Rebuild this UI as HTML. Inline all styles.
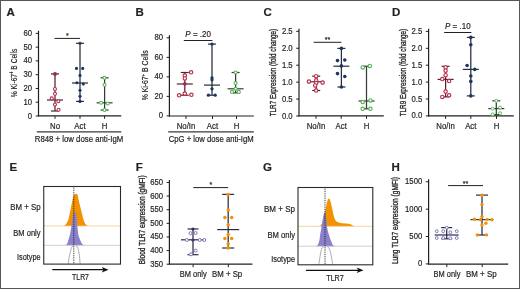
<!DOCTYPE html>
<html><head><meta charset="utf-8"><style>
html,body{margin:0;padding:0;background:#fff;}
svg{display:block;font-family:"Liberation Sans", sans-serif;will-change:transform;} text{stroke:#231f20;stroke-width:0.18px;}
</style></head><body>
<svg width="520" height="289" viewBox="0 0 520 289">
<rect x="0" y="0" width="520" height="289" fill="#fff"/>
<text x="0" y="0" transform="translate(6.5 15.7) scale(1 1.0)" font-size="11.5" text-anchor="start" font-weight="bold" fill="#231f20" >A</text>
<line x1="38.5" y1="30.779999999999994" x2="38.5" y2="116.3" stroke="#231f20" stroke-width="1.2" />
<line x1="35.7" y1="116.0" x2="38.5" y2="116.0" stroke="#231f20" stroke-width="1" />
<text x="0" y="0" transform="translate(32.1 118.5) scale(1 1.07)" font-size="7.7" text-anchor="end" font-weight="normal" fill="#231f20" >0</text>
<line x1="35.7" y1="102.23" x2="38.5" y2="102.23" stroke="#231f20" stroke-width="1" />
<text x="0" y="0" transform="translate(32.1 104.73) scale(1 1.07)" font-size="7.7" text-anchor="end" font-weight="normal" fill="#231f20" >10</text>
<line x1="35.7" y1="88.46000000000001" x2="38.5" y2="88.46000000000001" stroke="#231f20" stroke-width="1" />
<text x="0" y="0" transform="translate(32.1 90.96000000000001) scale(1 1.07)" font-size="7.7" text-anchor="end" font-weight="normal" fill="#231f20" >20</text>
<line x1="35.7" y1="74.69" x2="38.5" y2="74.69" stroke="#231f20" stroke-width="1" />
<text x="0" y="0" transform="translate(32.1 77.19) scale(1 1.07)" font-size="7.7" text-anchor="end" font-weight="normal" fill="#231f20" >30</text>
<line x1="35.7" y1="60.92" x2="38.5" y2="60.92" stroke="#231f20" stroke-width="1" />
<text x="0" y="0" transform="translate(32.1 63.42) scale(1 1.07)" font-size="7.7" text-anchor="end" font-weight="normal" fill="#231f20" >40</text>
<line x1="35.7" y1="47.150000000000006" x2="38.5" y2="47.150000000000006" stroke="#231f20" stroke-width="1" />
<text x="0" y="0" transform="translate(32.1 49.650000000000006) scale(1 1.07)" font-size="7.7" text-anchor="end" font-weight="normal" fill="#231f20" >50</text>
<line x1="35.7" y1="33.379999999999995" x2="38.5" y2="33.379999999999995" stroke="#231f20" stroke-width="1" />
<text x="0" y="0" transform="translate(32.1 35.879999999999995) scale(1 1.07)" font-size="7.7" text-anchor="end" font-weight="normal" fill="#231f20" >60</text>
<line x1="38" y1="115.8" x2="121.3" y2="115.8" stroke="#231f20" stroke-width="1.2" />
<line x1="55" y1="115.8" x2="55" y2="118.8" stroke="#231f20" stroke-width="1" />
<line x1="80" y1="115.8" x2="80" y2="118.8" stroke="#231f20" stroke-width="1" />
<line x1="104.6" y1="115.8" x2="104.6" y2="118.8" stroke="#231f20" stroke-width="1" />
<text x="0" y="0" transform="translate(55 128.9) scale(1 1.07)" font-size="7.8" text-anchor="middle" font-weight="normal" fill="#231f20" >No</text>
<text x="0" y="0" transform="translate(80 128.9) scale(1 1.07)" font-size="7.8" text-anchor="middle" font-weight="normal" fill="#231f20" >Act</text>
<text x="0" y="0" transform="translate(104.6 128.9) scale(1 1.07)" font-size="7.8" text-anchor="middle" font-weight="normal" fill="#231f20" >H</text>
<line x1="36.8" y1="131.9" x2="121.3" y2="131.9" stroke="#3a3a3a" stroke-width="1.4" />
<text x="0" y="0" transform="translate(79 141.6) scale(1 1.07)" font-size="7.8" text-anchor="middle" font-weight="normal" fill="#231f20" textLength="88.5" lengthAdjust="spacingAndGlyphs">R848 + low dose anti-IgM</text>
<text x="0" y="0" font-size="9.2" style="stroke-width:0.18px" text-anchor="middle" fill="#231f20" transform="translate(17.3 72.9) rotate(-90) scale(1 1.07)" textLength="48.5" lengthAdjust="spacingAndGlyphs">% Ki-67<tspan font-size="6" dy="-3.3">+</tspan><tspan dy="3.3"> B Cells</tspan></text>
<line x1="54.5" y1="38.4" x2="80" y2="38.4" stroke="#231f20" stroke-width="1" />
<text x="0" y="0" transform="translate(67.25 38.0) scale(1 1.07)" font-size="7" text-anchor="middle" font-weight="normal" fill="#231f20" >*</text>
<line x1="55" y1="73.9" x2="55" y2="111" stroke="#552232" stroke-width="1.25" />
<line x1="51.0" y1="73.9" x2="59.0" y2="73.9" stroke="#552232" stroke-width="1.2" />
<line x1="51.0" y1="111" x2="59.0" y2="111" stroke="#552232" stroke-width="1.2" />
<line x1="47.0" y1="100" x2="63.0" y2="100" stroke="#552232" stroke-width="1.2" />
<circle cx="55" cy="89" r="1.5" fill="#fff" stroke="#b8304c" stroke-width="1.1"/>
<circle cx="55" cy="93.7" r="1.5" fill="#fff" stroke="#b8304c" stroke-width="1.1"/>
<circle cx="51.7" cy="98.4" r="1.5" fill="#fff" stroke="#b8304c" stroke-width="1.1"/>
<circle cx="58.4" cy="101.2" r="1.5" fill="#fff" stroke="#b8304c" stroke-width="1.1"/>
<circle cx="55" cy="104.5" r="1.5" fill="#fff" stroke="#b8304c" stroke-width="1.1"/>
<circle cx="58.6" cy="109.7" r="1.5" fill="#fff" stroke="#b8304c" stroke-width="1.1"/>
<circle cx="55" cy="74" r="1.9" fill="#9a2a45"/>
<line x1="80" y1="43.3" x2="80" y2="101.4" stroke="#262d3b" stroke-width="1.25" />
<line x1="76.0" y1="43.3" x2="84.0" y2="43.3" stroke="#262d3b" stroke-width="1.2" />
<line x1="76.0" y1="101.4" x2="84.0" y2="101.4" stroke="#262d3b" stroke-width="1.2" />
<line x1="72.0" y1="83" x2="88.0" y2="83" stroke="#262d3b" stroke-width="1.2" />
<circle cx="80" cy="43.3" r="1.55" fill="#1a3662"/>
<circle cx="76.5" cy="68.4" r="1.55" fill="#1a3662"/>
<circle cx="82.7" cy="68.4" r="1.55" fill="#1a3662"/>
<circle cx="80" cy="75.4" r="1.55" fill="#1a3662"/>
<circle cx="83.3" cy="84" r="1.55" fill="#1a3662"/>
<circle cx="80" cy="90.3" r="1.55" fill="#1a3662"/>
<circle cx="80" cy="96.2" r="1.55" fill="#1a3662"/>
<circle cx="80" cy="101.4" r="1.55" fill="#1a3662"/>
<circle cx="76.9" cy="82.8" r="1.55" fill="#1a3662"/>
<line x1="104.6" y1="77.8" x2="104.6" y2="110" stroke="#333d30" stroke-width="1.25" />
<line x1="100.6" y1="77.8" x2="108.6" y2="77.8" stroke="#333d30" stroke-width="1.2" />
<line x1="100.6" y1="110" x2="108.6" y2="110" stroke="#333d30" stroke-width="1.2" />
<line x1="96.6" y1="102.8" x2="112.6" y2="102.8" stroke="#333d30" stroke-width="1.2" />
<circle cx="104.5" cy="77.8" r="1.5" fill="#fff" stroke="#55b555" stroke-width="1.05"/>
<circle cx="104.5" cy="84.8" r="1.5" fill="#fff" stroke="#55b555" stroke-width="1.05"/>
<circle cx="101" cy="102.8" r="1.5" fill="#fff" stroke="#55b555" stroke-width="1.05"/>
<circle cx="107.8" cy="103.5" r="1.5" fill="#fff" stroke="#55b555" stroke-width="1.05"/>
<circle cx="104.5" cy="110" r="1.5" fill="#fff" stroke="#55b555" stroke-width="1.05"/>
<text x="0" y="0" transform="translate(135.5 15.7) scale(1 1.0)" font-size="11.5" text-anchor="start" font-weight="bold" fill="#231f20" >B</text>
<line x1="169.4" y1="35.220000000000006" x2="169.4" y2="116.5" stroke="#231f20" stroke-width="1.2" />
<line x1="166.6" y1="115.9" x2="169.4" y2="115.9" stroke="#231f20" stroke-width="1" />
<text x="0" y="0" transform="translate(163.0 118.4) scale(1 1.07)" font-size="7.7" text-anchor="end" font-weight="normal" fill="#231f20" >0</text>
<line x1="166.6" y1="96.38000000000001" x2="169.4" y2="96.38000000000001" stroke="#231f20" stroke-width="1" />
<text x="0" y="0" transform="translate(163.0 98.88000000000001) scale(1 1.07)" font-size="7.7" text-anchor="end" font-weight="normal" fill="#231f20" >20</text>
<line x1="166.6" y1="76.86000000000001" x2="169.4" y2="76.86000000000001" stroke="#231f20" stroke-width="1" />
<text x="0" y="0" transform="translate(163.0 79.36000000000001) scale(1 1.07)" font-size="7.7" text-anchor="end" font-weight="normal" fill="#231f20" >40</text>
<line x1="166.6" y1="57.34" x2="169.4" y2="57.34" stroke="#231f20" stroke-width="1" />
<text x="0" y="0" transform="translate(163.0 59.84) scale(1 1.07)" font-size="7.7" text-anchor="end" font-weight="normal" fill="#231f20" >60</text>
<line x1="166.6" y1="37.82000000000001" x2="169.4" y2="37.82000000000001" stroke="#231f20" stroke-width="1" />
<text x="0" y="0" transform="translate(163.0 40.32000000000001) scale(1 1.07)" font-size="7.7" text-anchor="end" font-weight="normal" fill="#231f20" >80</text>
<line x1="169" y1="116" x2="253.8" y2="116" stroke="#231f20" stroke-width="1.2" />
<line x1="186" y1="116" x2="186" y2="119" stroke="#231f20" stroke-width="1" />
<line x1="212.5" y1="116" x2="212.5" y2="119" stroke="#231f20" stroke-width="1" />
<line x1="236.5" y1="116" x2="236.5" y2="119" stroke="#231f20" stroke-width="1" />
<text x="0" y="0" transform="translate(186 129.0) scale(1 1.07)" font-size="7.8" text-anchor="middle" font-weight="normal" fill="#231f20" >No/In</text>
<text x="0" y="0" transform="translate(212.5 129.0) scale(1 1.07)" font-size="7.8" text-anchor="middle" font-weight="normal" fill="#231f20" >Act</text>
<text x="0" y="0" transform="translate(236.5 129.0) scale(1 1.07)" font-size="7.8" text-anchor="middle" font-weight="normal" fill="#231f20" >H</text>
<line x1="168.2" y1="131.9" x2="253.8" y2="131.9" stroke="#3a3a3a" stroke-width="1.4" />
<text x="0" y="0" transform="translate(211.2 141.6) scale(1 1.07)" font-size="7.8" text-anchor="middle" font-weight="normal" fill="#231f20" textLength="85" lengthAdjust="spacingAndGlyphs">CpG + low dose anti-IgM</text>
<text x="0" y="0" font-size="7.6" style="stroke-width:0.18px" text-anchor="middle" fill="#231f20" transform="translate(148.0 75.3) rotate(-90) scale(1 1.07)" textLength="50" lengthAdjust="spacingAndGlyphs">% Ki-67<tspan font-size="5" dy="-2.7">+</tspan><tspan dy="2.7"> B Cells</tspan></text>
<line x1="183.8" y1="40.5" x2="212.4" y2="40.5" stroke="#231f20" stroke-width="1" />
<text x="0" y="0" transform="translate(198.10000000000002 36.6) scale(1 1.07)" font-size="8.3" text-anchor="middle" fill="#231f20" textLength="25.5" lengthAdjust="spacingAndGlyphs"><tspan font-style="italic">P</tspan> = .20</text>
<line x1="184.8" y1="72.5" x2="184.8" y2="95.2" stroke="#552232" stroke-width="1.25" />
<line x1="180.8" y1="72.5" x2="188.8" y2="72.5" stroke="#552232" stroke-width="1.2" />
<line x1="180.8" y1="95.2" x2="188.8" y2="95.2" stroke="#552232" stroke-width="1.2" />
<line x1="176.8" y1="84" x2="192.8" y2="84" stroke="#552232" stroke-width="1.2" />
<circle cx="191.1" cy="72.3" r="1.7" fill="#fff" stroke="#b8304c" stroke-width="1.15"/>
<circle cx="184.8" cy="75.6" r="1.7" fill="#fff" stroke="#b8304c" stroke-width="1.15"/>
<circle cx="184.8" cy="78.4" r="1.7" fill="#fff" stroke="#b8304c" stroke-width="1.15"/>
<circle cx="184.8" cy="93.6" r="1.7" fill="#fff" stroke="#b8304c" stroke-width="1.15"/>
<circle cx="179.1" cy="95.3" r="1.7" fill="#fff" stroke="#b8304c" stroke-width="1.15"/>
<circle cx="191.4" cy="94.8" r="1.7" fill="#fff" stroke="#b8304c" stroke-width="1.15"/>
<circle cx="184.8" cy="83.9" r="1.8" fill="#a02a45"/>
<line x1="212" y1="44.1" x2="212" y2="95.2" stroke="#262d3b" stroke-width="1.25" />
<line x1="208.0" y1="44.1" x2="216.0" y2="44.1" stroke="#262d3b" stroke-width="1.2" />
<line x1="208.0" y1="95.2" x2="216.0" y2="95.2" stroke="#262d3b" stroke-width="1.2" />
<line x1="204.0" y1="85.1" x2="220.0" y2="85.1" stroke="#262d3b" stroke-width="1.2" />
<circle cx="212" cy="44.1" r="1.6500000000000001" fill="#1a3662"/>
<circle cx="212" cy="77.8" r="1.6500000000000001" fill="#1a3662"/>
<circle cx="212" cy="79.8" r="1.6500000000000001" fill="#1a3662"/>
<circle cx="212" cy="88.8" r="1.6500000000000001" fill="#1a3662"/>
<circle cx="208.4" cy="95.2" r="1.6500000000000001" fill="#1a3662"/>
<circle cx="215.2" cy="95.2" r="1.6500000000000001" fill="#1a3662"/>
<line x1="235.6" y1="72.5" x2="235.6" y2="92.9" stroke="#333d30" stroke-width="1.25" />
<line x1="231.6" y1="72.5" x2="239.6" y2="72.5" stroke="#333d30" stroke-width="1.2" />
<line x1="231.6" y1="92.9" x2="239.6" y2="92.9" stroke="#333d30" stroke-width="1.2" />
<line x1="227.6" y1="88.8" x2="243.6" y2="88.8" stroke="#333d30" stroke-width="1.2" />
<circle cx="235.6" cy="72.5" r="1.55" fill="#fff" stroke="#55b555" stroke-width="1.05"/>
<circle cx="235.6" cy="83.2" r="1.55" fill="#fff" stroke="#55b555" stroke-width="1.05"/>
<circle cx="232" cy="91.9" r="1.55" fill="#fff" stroke="#55b555" stroke-width="1.05"/>
<circle cx="238.8" cy="91.9" r="1.55" fill="#fff" stroke="#55b555" stroke-width="1.05"/>
<circle cx="235.6" cy="88.8" r="1.55" fill="#fff" stroke="#55b555" stroke-width="1.05"/>
<text x="0" y="0" transform="translate(263.5 15.7) scale(1 1.0)" font-size="11.5" text-anchor="start" font-weight="bold" fill="#231f20" >C</text>
<line x1="299.0" y1="28.725" x2="299.0" y2="116.3" stroke="#231f20" stroke-width="1.2" />
<line x1="296.2" y1="116.0" x2="299.0" y2="116.0" stroke="#231f20" stroke-width="1" />
<text x="0" y="0" transform="translate(292.6 118.5) scale(1 1.07)" font-size="7.7" text-anchor="end" font-weight="normal" fill="#231f20" >0.0</text>
<line x1="296.2" y1="99.065" x2="299.0" y2="99.065" stroke="#231f20" stroke-width="1" />
<text x="0" y="0" transform="translate(292.6 101.565) scale(1 1.07)" font-size="7.7" text-anchor="end" font-weight="normal" fill="#231f20" >0.5</text>
<line x1="296.2" y1="82.13" x2="299.0" y2="82.13" stroke="#231f20" stroke-width="1" />
<text x="0" y="0" transform="translate(292.6 84.63) scale(1 1.07)" font-size="7.7" text-anchor="end" font-weight="normal" fill="#231f20" >1.0</text>
<line x1="296.2" y1="65.19500000000001" x2="299.0" y2="65.19500000000001" stroke="#231f20" stroke-width="1" />
<text x="0" y="0" transform="translate(292.6 67.69500000000001) scale(1 1.07)" font-size="7.7" text-anchor="end" font-weight="normal" fill="#231f20" >1.5</text>
<line x1="296.2" y1="48.260000000000005" x2="299.0" y2="48.260000000000005" stroke="#231f20" stroke-width="1" />
<text x="0" y="0" transform="translate(292.6 50.760000000000005) scale(1 1.07)" font-size="7.7" text-anchor="end" font-weight="normal" fill="#231f20" >2.0</text>
<line x1="296.2" y1="31.325000000000003" x2="299.0" y2="31.325000000000003" stroke="#231f20" stroke-width="1" />
<text x="0" y="0" transform="translate(292.6 33.825) scale(1 1.07)" font-size="7.7" text-anchor="end" font-weight="normal" fill="#231f20" >2.5</text>
<line x1="298.5" y1="115.8" x2="383.8" y2="115.8" stroke="#231f20" stroke-width="1.2" />
<line x1="316" y1="115.8" x2="316" y2="118.8" stroke="#231f20" stroke-width="1" />
<line x1="341.2" y1="115.8" x2="341.2" y2="118.8" stroke="#231f20" stroke-width="1" />
<line x1="366.5" y1="115.8" x2="366.5" y2="118.8" stroke="#231f20" stroke-width="1" />
<text x="0" y="0" transform="translate(316 128.8) scale(1 1.07)" font-size="7.8" text-anchor="middle" font-weight="normal" fill="#231f20" >No/In</text>
<text x="0" y="0" transform="translate(341.2 128.8) scale(1 1.07)" font-size="7.8" text-anchor="middle" font-weight="normal" fill="#231f20" >Act</text>
<text x="0" y="0" transform="translate(366.5 128.8) scale(1 1.07)" font-size="7.8" text-anchor="middle" font-weight="normal" fill="#231f20" >H</text>
<text x="0" y="0" font-size="8.0" style="stroke-width:0.3px" text-anchor="middle" fill="#231f20" transform="translate(276.4 72.6) rotate(-90) scale(1 1.07)" textLength="87.5" lengthAdjust="spacingAndGlyphs">TLR7 Expression (fold change)</text>
<line x1="313.6" y1="42.3" x2="341.4" y2="42.3" stroke="#231f20" stroke-width="1" />
<text x="0" y="0" transform="translate(327.5 42.1) scale(1 1.07)" font-size="7" text-anchor="middle" font-weight="normal" fill="#231f20" >**</text>
<line x1="316.2" y1="76.2" x2="316.2" y2="90.5" stroke="#552232" stroke-width="1.25" />
<line x1="312.2" y1="76.2" x2="320.2" y2="76.2" stroke="#552232" stroke-width="1.2" />
<line x1="312.2" y1="90.5" x2="320.2" y2="90.5" stroke="#552232" stroke-width="1.2" />
<line x1="308.2" y1="81.8" x2="324.2" y2="81.8" stroke="#552232" stroke-width="1.2" />
<circle cx="316.2" cy="76.2" r="1.7" fill="#fff" stroke="#b8304c" stroke-width="1.15"/>
<circle cx="308.9" cy="81.6" r="1.7" fill="#fff" stroke="#b8304c" stroke-width="1.15"/>
<circle cx="322.6" cy="82.6" r="1.7" fill="#fff" stroke="#b8304c" stroke-width="1.15"/>
<circle cx="316.2" cy="80.3" r="1.7" fill="#fff" stroke="#b8304c" stroke-width="1.15"/>
<circle cx="316.2" cy="83" r="1.7" fill="#fff" stroke="#b8304c" stroke-width="1.15"/>
<circle cx="315.2" cy="85.4" r="1.7" fill="#fff" stroke="#b8304c" stroke-width="1.15"/>
<circle cx="316.2" cy="90.5" r="1.7" fill="#fff" stroke="#b8304c" stroke-width="1.15"/>
<line x1="341.4" y1="48.4" x2="341.4" y2="87" stroke="#262d3b" stroke-width="1.25" />
<line x1="337.4" y1="48.4" x2="345.4" y2="48.4" stroke="#262d3b" stroke-width="1.2" />
<line x1="337.4" y1="87" x2="345.4" y2="87" stroke="#262d3b" stroke-width="1.2" />
<line x1="333.4" y1="66.2" x2="349.4" y2="66.2" stroke="#262d3b" stroke-width="1.2" />
<circle cx="341.4" cy="48.4" r="1.8" fill="#1a3662"/>
<circle cx="337.5" cy="60.6" r="1.8" fill="#1a3662"/>
<circle cx="344.8" cy="60" r="1.8" fill="#1a3662"/>
<circle cx="341.4" cy="65.9" r="1.8" fill="#1a3662"/>
<circle cx="337.5" cy="73.6" r="1.8" fill="#1a3662"/>
<circle cx="344.8" cy="76.5" r="1.8" fill="#1a3662"/>
<circle cx="341.4" cy="87" r="1.8" fill="#1a3662"/>
<line x1="366.5" y1="66.2" x2="366.5" y2="108.8" stroke="#333d30" stroke-width="1.25" />
<line x1="362.5" y1="66.2" x2="370.5" y2="66.2" stroke="#333d30" stroke-width="1.2" />
<line x1="362.5" y1="108.8" x2="370.5" y2="108.8" stroke="#333d30" stroke-width="1.2" />
<line x1="358.5" y1="101" x2="374.5" y2="101" stroke="#333d30" stroke-width="1.2" />
<circle cx="362.7" cy="67.4" r="1.7" fill="#fff" stroke="#55b555" stroke-width="1.15"/>
<circle cx="369.8" cy="65.9" r="1.7" fill="#fff" stroke="#55b555" stroke-width="1.15"/>
<circle cx="362.7" cy="102" r="1.7" fill="#fff" stroke="#55b555" stroke-width="1.15"/>
<circle cx="370.4" cy="100.4" r="1.7" fill="#fff" stroke="#55b555" stroke-width="1.15"/>
<circle cx="362.7" cy="108.8" r="1.7" fill="#fff" stroke="#55b555" stroke-width="1.15"/>
<circle cx="370.4" cy="108.8" r="1.7" fill="#fff" stroke="#55b555" stroke-width="1.15"/>
<text x="0" y="0" transform="translate(392 15.7) scale(1 1.0)" font-size="11.5" text-anchor="start" font-weight="bold" fill="#231f20" >D</text>
<line x1="428.6" y1="28.800000000000004" x2="428.6" y2="116.4" stroke="#231f20" stroke-width="1.2" />
<line x1="425.8" y1="115.9" x2="428.6" y2="115.9" stroke="#231f20" stroke-width="1" />
<text x="0" y="0" transform="translate(422.20000000000005 118.4) scale(1 1.07)" font-size="7.7" text-anchor="end" font-weight="normal" fill="#231f20" >0.0</text>
<line x1="425.8" y1="99.0" x2="428.6" y2="99.0" stroke="#231f20" stroke-width="1" />
<text x="0" y="0" transform="translate(422.20000000000005 101.5) scale(1 1.07)" font-size="7.7" text-anchor="end" font-weight="normal" fill="#231f20" >0.5</text>
<line x1="425.8" y1="82.10000000000001" x2="428.6" y2="82.10000000000001" stroke="#231f20" stroke-width="1" />
<text x="0" y="0" transform="translate(422.20000000000005 84.60000000000001) scale(1 1.07)" font-size="7.7" text-anchor="end" font-weight="normal" fill="#231f20" >1.0</text>
<line x1="425.8" y1="65.20000000000002" x2="428.6" y2="65.20000000000002" stroke="#231f20" stroke-width="1" />
<text x="0" y="0" transform="translate(422.20000000000005 67.70000000000002) scale(1 1.07)" font-size="7.7" text-anchor="end" font-weight="normal" fill="#231f20" >1.5</text>
<line x1="425.8" y1="48.30000000000001" x2="428.6" y2="48.30000000000001" stroke="#231f20" stroke-width="1" />
<text x="0" y="0" transform="translate(422.20000000000005 50.80000000000001) scale(1 1.07)" font-size="7.7" text-anchor="end" font-weight="normal" fill="#231f20" >2.0</text>
<line x1="425.8" y1="31.400000000000006" x2="428.6" y2="31.400000000000006" stroke="#231f20" stroke-width="1" />
<text x="0" y="0" transform="translate(422.20000000000005 33.900000000000006) scale(1 1.07)" font-size="7.7" text-anchor="end" font-weight="normal" fill="#231f20" >2.5</text>
<line x1="428" y1="115.9" x2="513.8" y2="115.9" stroke="#231f20" stroke-width="1.2" />
<line x1="445.6" y1="115.9" x2="445.6" y2="118.9" stroke="#231f20" stroke-width="1" />
<line x1="470.8" y1="115.9" x2="470.8" y2="118.9" stroke="#231f20" stroke-width="1" />
<line x1="496.5" y1="115.9" x2="496.5" y2="118.9" stroke="#231f20" stroke-width="1" />
<text x="0" y="0" transform="translate(445.6 128.6) scale(1 1.07)" font-size="7.8" text-anchor="middle" font-weight="normal" fill="#231f20" >No/In</text>
<text x="0" y="0" transform="translate(470.8 128.6) scale(1 1.07)" font-size="7.8" text-anchor="middle" font-weight="normal" fill="#231f20" >Act</text>
<text x="0" y="0" transform="translate(496.5 128.6) scale(1 1.07)" font-size="7.8" text-anchor="middle" font-weight="normal" fill="#231f20" >H</text>
<text x="0" y="0" font-size="8.0" style="stroke-width:0.3px" text-anchor="middle" fill="#231f20" transform="translate(406.4 72.6) rotate(-90) scale(1 1.07)" textLength="87.5" lengthAdjust="spacingAndGlyphs">TLR9 Expression (fold change)</text>
<line x1="444.2" y1="32.5" x2="471.4" y2="32.5" stroke="#231f20" stroke-width="1" />
<text x="0" y="0" transform="translate(457.79999999999995 28.6) scale(1 1.07)" font-size="8.3" text-anchor="middle" fill="#231f20" textLength="25.5" lengthAdjust="spacingAndGlyphs"><tspan font-style="italic">P</tspan> = .10</text>
<line x1="445.6" y1="66.3" x2="445.6" y2="96.9" stroke="#552232" stroke-width="1.25" />
<line x1="441.6" y1="66.3" x2="449.6" y2="66.3" stroke="#552232" stroke-width="1.2" />
<line x1="441.6" y1="96.9" x2="449.6" y2="96.9" stroke="#552232" stroke-width="1.2" />
<line x1="437.6" y1="79.4" x2="453.6" y2="79.4" stroke="#552232" stroke-width="1.2" />
<circle cx="445.6" cy="67.4" r="1.7" fill="#fff" stroke="#b8304c" stroke-width="1.15"/>
<circle cx="445.6" cy="70.7" r="1.7" fill="#fff" stroke="#b8304c" stroke-width="1.15"/>
<circle cx="445.6" cy="75.2" r="1.7" fill="#fff" stroke="#b8304c" stroke-width="1.15"/>
<circle cx="442.3" cy="79" r="1.7" fill="#fff" stroke="#b8304c" stroke-width="1.15"/>
<circle cx="449.1" cy="81" r="1.7" fill="#fff" stroke="#b8304c" stroke-width="1.15"/>
<circle cx="445.6" cy="91.5" r="1.7" fill="#fff" stroke="#b8304c" stroke-width="1.15"/>
<circle cx="442.3" cy="96.9" r="1.7" fill="#fff" stroke="#b8304c" stroke-width="1.15"/>
<circle cx="449.1" cy="95.3" r="1.7" fill="#fff" stroke="#b8304c" stroke-width="1.15"/>
<line x1="470.8" y1="37.4" x2="470.8" y2="95.9" stroke="#262d3b" stroke-width="1.25" />
<line x1="466.8" y1="37.4" x2="474.8" y2="37.4" stroke="#262d3b" stroke-width="1.2" />
<line x1="466.8" y1="95.9" x2="474.8" y2="95.9" stroke="#262d3b" stroke-width="1.2" />
<line x1="462.8" y1="69.4" x2="478.8" y2="69.4" stroke="#262d3b" stroke-width="1.2" />
<circle cx="470.8" cy="37.4" r="1.8" fill="#1a3662"/>
<circle cx="470.8" cy="44.8" r="1.8" fill="#1a3662"/>
<circle cx="467.1" cy="65.5" r="1.8" fill="#1a3662"/>
<circle cx="474.7" cy="69.4" r="1.8" fill="#1a3662"/>
<circle cx="470.8" cy="76" r="1.8" fill="#1a3662"/>
<circle cx="470.8" cy="81.4" r="1.8" fill="#1a3662"/>
<circle cx="470.8" cy="95.9" r="1.8" fill="#1a3662"/>
<line x1="496.3" y1="100.8" x2="496.3" y2="114.6" stroke="#333d30" stroke-width="1.25" />
<line x1="492.3" y1="100.8" x2="500.3" y2="100.8" stroke="#333d30" stroke-width="1.2" />
<line x1="492.3" y1="114.6" x2="500.3" y2="114.6" stroke="#333d30" stroke-width="1.2" />
<line x1="488.3" y1="108.6" x2="504.3" y2="108.6" stroke="#333d30" stroke-width="1.2" />
<circle cx="496.3" cy="100.8" r="1.5" fill="#fff" stroke="#62bb62" stroke-width="1.0"/>
<circle cx="492.6" cy="108.6" r="1.5" fill="#fff" stroke="#62bb62" stroke-width="1.0"/>
<circle cx="500.1" cy="107.6" r="1.5" fill="#fff" stroke="#62bb62" stroke-width="1.0"/>
<circle cx="492.6" cy="114.3" r="1.5" fill="#fff" stroke="#62bb62" stroke-width="1.0"/>
<circle cx="500.1" cy="113.3" r="1.5" fill="#fff" stroke="#62bb62" stroke-width="1.0"/>
<text x="0" y="0" transform="translate(9.5 171.2) scale(1 1.0)" font-size="11.5" text-anchor="start" font-weight="bold" fill="#231f20" >E</text>
<path d="M63,226 L64.4,225.6 L66,224.2 L68.3,220 L70.5,210 L72.4,200 L73.5,196 L74.5,194.2 L76,193.8 L77.2,194.3 L78,196.5 L78.6,200 L79.8,205 L81.1,210 L82.3,215 L83.6,220 L85,223.6 L86.9,225.6 L89,226 Z" fill="#f39200" stroke="none"/>
<line x1="43.75" y1="226" x2="120.5" y2="226" stroke="#f6c98a" stroke-width="0.8" />
<path d="M64.5,245.3 L66.4,244.8 L67.5,243 L68.4,240 L69.9,235 L71,229 L72,222 L73,215 L74,212.3 L75.2,212 L76.3,214 L76.8,220 L77.3,226 L78.3,235 L80.1,240 L81.5,243 L82.9,244.8 L85,245.3 Z" fill="#8a80cc" stroke="none"/>
<line x1="43.75" y1="245.3" x2="120.5" y2="245.3" stroke="#c4c2d6" stroke-width="0.8" />
<path d="M68.2,263.8 L69.2,257 L70.3,252 L71.3,248.5 L72.3,246.2 L73.5,245.3 M75.9,245.3 L77,246.2 L78,248.5 L78.9,252 L79.6,257 L80.1,263.8" fill="none" stroke="#9a9a9a" stroke-width="0.8"/>
<line x1="73.8" y1="186.5" x2="73.8" y2="264.1" stroke="#111" stroke-width="0.9" stroke-dasharray="0.9 0.9"/>
<rect x="43.75" y="186.5" width="76.75" height="77.60000000000002" fill="none" stroke="#2a2a2a" stroke-width="1.1"/>
<text x="0" y="0" transform="translate(40.5 209.5) scale(1 1.07)" font-size="7.8" text-anchor="end" font-weight="normal" fill="#231f20" textLength="30.3" lengthAdjust="spacingAndGlyphs">BM + Sp</text>
<text x="0" y="0" transform="translate(40.5 236.4) scale(1 1.07)" font-size="7.8" text-anchor="end" font-weight="normal" fill="#231f20" textLength="27.2" lengthAdjust="spacingAndGlyphs">BM only</text>
<text x="0" y="0" transform="translate(40.5 260.1) scale(1 1.07)" font-size="7.8" text-anchor="end" font-weight="normal" fill="#231f20" textLength="23.5" lengthAdjust="spacingAndGlyphs">Isotype</text>
<line x1="52.3" y1="269.7" x2="104.6" y2="269.7" stroke="#111" stroke-width="1.3" />
<path d="M108.6,269.7 L101.8,266.9 L103.39999999999999,269.7 L101.8,272.5 Z" fill="#111"/>
<text x="0" y="0" transform="translate(80.5 279.5) scale(1 1.07)" font-size="7.6" text-anchor="middle" font-weight="normal" fill="#231f20" textLength="16.8" lengthAdjust="spacingAndGlyphs">TLR7</text>
<text x="0" y="0" transform="translate(135.8 171.2) scale(1 1.0)" font-size="11.5" text-anchor="start" font-weight="bold" fill="#231f20" >F</text>
<line x1="169.4" y1="179.88" x2="169.4" y2="264.7" stroke="#231f20" stroke-width="1.2" />
<line x1="166.6" y1="264.2" x2="169.4" y2="264.2" stroke="#231f20" stroke-width="1" />
<text x="0" y="0" transform="translate(163.0 266.7) scale(1 1.07)" font-size="7.7" text-anchor="end" font-weight="normal" fill="#231f20" >350</text>
<line x1="166.6" y1="250.57999999999998" x2="169.4" y2="250.57999999999998" stroke="#231f20" stroke-width="1" />
<text x="0" y="0" transform="translate(163.0 253.07999999999998) scale(1 1.07)" font-size="7.7" text-anchor="end" font-weight="normal" fill="#231f20" >400</text>
<line x1="166.6" y1="236.95999999999998" x2="169.4" y2="236.95999999999998" stroke="#231f20" stroke-width="1" />
<text x="0" y="0" transform="translate(163.0 239.45999999999998) scale(1 1.07)" font-size="7.7" text-anchor="end" font-weight="normal" fill="#231f20" >450</text>
<line x1="166.6" y1="223.33999999999997" x2="169.4" y2="223.33999999999997" stroke="#231f20" stroke-width="1" />
<text x="0" y="0" transform="translate(163.0 225.83999999999997) scale(1 1.07)" font-size="7.7" text-anchor="end" font-weight="normal" fill="#231f20" >500</text>
<line x1="166.6" y1="209.72" x2="169.4" y2="209.72" stroke="#231f20" stroke-width="1" />
<text x="0" y="0" transform="translate(163.0 212.22) scale(1 1.07)" font-size="7.7" text-anchor="end" font-weight="normal" fill="#231f20" >550</text>
<line x1="166.6" y1="196.1" x2="169.4" y2="196.1" stroke="#231f20" stroke-width="1" />
<text x="0" y="0" transform="translate(163.0 198.6) scale(1 1.07)" font-size="7.7" text-anchor="end" font-weight="normal" fill="#231f20" >600</text>
<line x1="166.6" y1="182.48" x2="169.4" y2="182.48" stroke="#231f20" stroke-width="1" />
<text x="0" y="0" transform="translate(163.0 184.98) scale(1 1.07)" font-size="7.7" text-anchor="end" font-weight="normal" fill="#231f20" >650</text>
<line x1="169" y1="264.2" x2="252.4" y2="264.2" stroke="#231f20" stroke-width="1.2" />
<line x1="193.1" y1="264.2" x2="193.1" y2="267.2" stroke="#231f20" stroke-width="1" />
<line x1="228.3" y1="264.2" x2="228.3" y2="267.2" stroke="#231f20" stroke-width="1" />
<text x="0" y="0" transform="translate(193.2 277.2) scale(1 1.07)" font-size="7.8" text-anchor="middle" font-weight="normal" fill="#231f20" textLength="27" lengthAdjust="spacingAndGlyphs">BM only</text>
<text x="0" y="0" transform="translate(227.1 277.2) scale(1 1.07)" font-size="7.8" text-anchor="middle" font-weight="normal" fill="#231f20" textLength="30.2" lengthAdjust="spacingAndGlyphs">BM + Sp</text>
<text x="0" y="0" font-size="8.2" style="stroke-width:0.3px" text-anchor="middle" fill="#231f20" transform="translate(145.2 219.8) rotate(-90) scale(1 1.07)" textLength="89" lengthAdjust="spacingAndGlyphs">Blood TLR7 expression (gMFI)</text>
<line x1="193.3" y1="187.6" x2="228.2" y2="187.6" stroke="#231f20" stroke-width="1" />
<text x="0" y="0" transform="translate(210.75 187.2) scale(1 1.07)" font-size="7" text-anchor="middle" font-weight="normal" fill="#231f20" >*</text>
<line x1="193" y1="229" x2="193" y2="254.7" stroke="#2c2c48" stroke-width="1.25" />
<line x1="187.5" y1="229" x2="198.5" y2="229" stroke="#2c2c48" stroke-width="1.2" />
<line x1="187.5" y1="254.7" x2="198.5" y2="254.7" stroke="#2c2c48" stroke-width="1.2" />
<line x1="181.0" y1="239.8" x2="205.0" y2="239.8" stroke="#2c2c48" stroke-width="1.2" />
<circle cx="190.5" cy="233.2" r="1.5" fill="#fff" stroke="#7878bc" stroke-width="1.0"/>
<circle cx="195.6" cy="233" r="1.5" fill="#fff" stroke="#7878bc" stroke-width="1.0"/>
<circle cx="186.8" cy="240" r="1.5" fill="#fff" stroke="#7878bc" stroke-width="1.0"/>
<circle cx="199.8" cy="240" r="1.5" fill="#fff" stroke="#7878bc" stroke-width="1.0"/>
<circle cx="204.2" cy="240" r="1.5" fill="#fff" stroke="#7878bc" stroke-width="1.0"/>
<circle cx="195.6" cy="250.6" r="1.5" fill="#fff" stroke="#7878bc" stroke-width="1.0"/>
<circle cx="191" cy="254.3" r="1.5" fill="#fff" stroke="#7878bc" stroke-width="1.0"/>
<circle cx="193" cy="229" r="1.6" fill="#2c2c50"/>
<circle cx="193" cy="240" r="1.6" fill="#3c3c70"/>
<line x1="228.2" y1="194.4" x2="228.2" y2="248" stroke="#2c2c48" stroke-width="1.25" />
<line x1="222.2" y1="194.4" x2="234.2" y2="194.4" stroke="#2c2c48" stroke-width="1.2" />
<line x1="222.2" y1="248" x2="234.2" y2="248" stroke="#2c2c48" stroke-width="1.2" />
<line x1="217.2" y1="229.6" x2="239.2" y2="229.6" stroke="#2c2c48" stroke-width="1.2" />
<circle cx="228.2" cy="194.4" r="1.75" fill="#f39200"/>
<circle cx="228.2" cy="209.9" r="1.75" fill="#f39200"/>
<circle cx="224.9" cy="217.5" r="1.75" fill="#f39200"/>
<circle cx="231.7" cy="217.5" r="1.75" fill="#f39200"/>
<circle cx="228.2" cy="224.8" r="1.75" fill="#f39200"/>
<circle cx="228.2" cy="234.4" r="1.75" fill="#f39200"/>
<circle cx="224.9" cy="238.6" r="1.75" fill="#f39200"/>
<circle cx="231.7" cy="238.6" r="1.75" fill="#f39200"/>
<circle cx="228.2" cy="243.7" r="1.75" fill="#f39200"/>
<circle cx="228.2" cy="248" r="1.75" fill="#f39200"/>
<text x="0" y="0" transform="translate(263 171.2) scale(1 1.0)" font-size="11.5" text-anchor="start" font-weight="bold" fill="#231f20" >G</text>
<path d="M318.5,226.3 L320.4,225.8 L322,223.5 L323.5,219 L324.8,213 L325.8,208 L326.8,203 L327.8,199.5 L328.7,198.4 L329.6,199 L330.5,201.5 L331.5,205.5 L332.5,210 L333.3,214 L334.2,217.5 L335,219.8 L336.5,221.5 L338.5,222.6 L342,223.3 L346,223.6 L350,224 L352,225 L354,226.3 Z" fill="#f39200" stroke="none"/>
<line x1="298" y1="226.3" x2="372.8" y2="226.3" stroke="#f6c98a" stroke-width="0.8" />
<path d="M315.5,246.2 L317.4,245.6 L318.5,243.5 L319.5,240 L320.1,235 L321,230 L321.6,226 L322.6,220 L323.5,215 L324.3,212.4 L325.2,213 L326,217 L326.9,226 L327.8,231 L329,235 L330.5,239.5 L332,243.5 L333.2,245.6 L336,246.2 Z" fill="#8a80cc" stroke="none"/>
<line x1="298" y1="246.2" x2="372.8" y2="246.2" stroke="#c4c2d6" stroke-width="0.8" />
<path d="M318.8,264.8 L319.8,258 L320.6,253 L321.5,249.5 L322.5,247.3 L324,246.3 M327,246.3 L328.5,247.3 L329.6,249.5 L330.6,253 L331.6,258 L332.8,264.8" fill="none" stroke="#9a9a9a" stroke-width="0.8"/>
<line x1="325" y1="187.5" x2="325" y2="264.8" stroke="#111" stroke-width="0.9" stroke-dasharray="0.9 0.9"/>
<rect x="298" y="187.5" width="74.80000000000001" height="77.30000000000001" fill="none" stroke="#2a2a2a" stroke-width="1.1"/>
<text x="0" y="0" transform="translate(295 211.5) scale(1 1.07)" font-size="7.8" text-anchor="end" font-weight="normal" fill="#231f20" textLength="31" lengthAdjust="spacingAndGlyphs">BM + Sp</text>
<text x="0" y="0" transform="translate(295 238.3) scale(1 1.07)" font-size="7.8" text-anchor="end" font-weight="normal" fill="#231f20" textLength="27.5" lengthAdjust="spacingAndGlyphs">BM only</text>
<text x="0" y="0" transform="translate(295 262.2) scale(1 1.07)" font-size="7.8" text-anchor="end" font-weight="normal" fill="#231f20" textLength="23.7" lengthAdjust="spacingAndGlyphs">Isotype</text>
<line x1="306" y1="270.3" x2="359.5" y2="270.3" stroke="#111" stroke-width="1.3" />
<path d="M363.5,270.3 L356.7,267.5 L358.3,270.3 L356.7,273.1 Z" fill="#111"/>
<text x="0" y="0" transform="translate(335 280.6) scale(1 1.07)" font-size="7.6" text-anchor="middle" font-weight="normal" fill="#231f20" textLength="17.5" lengthAdjust="spacingAndGlyphs">TLR7</text>
<text x="0" y="0" transform="translate(391.5 171.2) scale(1 1.0)" font-size="11.5" text-anchor="start" font-weight="bold" fill="#231f20" >H</text>
<line x1="428.6" y1="179.18999999999997" x2="428.6" y2="264.4" stroke="#231f20" stroke-width="1.2" />
<line x1="425.8" y1="263.9" x2="428.6" y2="263.9" stroke="#231f20" stroke-width="1" />
<text x="0" y="0" transform="translate(422.20000000000005 266.4) scale(1 1.07)" font-size="7.7" text-anchor="end" font-weight="normal" fill="#231f20" >0</text>
<line x1="425.8" y1="236.52999999999997" x2="428.6" y2="236.52999999999997" stroke="#231f20" stroke-width="1" />
<text x="0" y="0" transform="translate(422.20000000000005 239.02999999999997) scale(1 1.07)" font-size="7.7" text-anchor="end" font-weight="normal" fill="#231f20" >500</text>
<line x1="425.8" y1="209.15999999999997" x2="428.6" y2="209.15999999999997" stroke="#231f20" stroke-width="1" />
<text x="0" y="0" transform="translate(422.20000000000005 211.65999999999997) scale(1 1.07)" font-size="7.7" text-anchor="end" font-weight="normal" fill="#231f20" >1000</text>
<line x1="425.8" y1="181.78999999999996" x2="428.6" y2="181.78999999999996" stroke="#231f20" stroke-width="1" />
<text x="0" y="0" transform="translate(422.20000000000005 184.28999999999996) scale(1 1.07)" font-size="7.7" text-anchor="end" font-weight="normal" fill="#231f20" >1500</text>
<line x1="428" y1="264.1" x2="508.2" y2="264.1" stroke="#231f20" stroke-width="1.2" />
<line x1="446.8" y1="264.1" x2="446.8" y2="267.1" stroke="#231f20" stroke-width="1" />
<line x1="482.2" y1="264.1" x2="482.2" y2="267.1" stroke="#231f20" stroke-width="1" />
<text x="0" y="0" transform="translate(447 277.2) scale(1 1.07)" font-size="7.8" text-anchor="middle" font-weight="normal" fill="#231f20" textLength="26.8" lengthAdjust="spacingAndGlyphs">BM only</text>
<text x="0" y="0" transform="translate(481.3 277.2) scale(1 1.07)" font-size="7.8" text-anchor="middle" font-weight="normal" fill="#231f20" textLength="30.6" lengthAdjust="spacingAndGlyphs">BM + Sp</text>
<text x="0" y="0" font-size="7.9" style="stroke-width:0.3px" text-anchor="middle" fill="#231f20" transform="translate(398.2 220.6) rotate(-90) scale(1 1.07)" textLength="87" lengthAdjust="spacingAndGlyphs">Lung TLR7 expression (gMFI)</text>
<line x1="448.1" y1="185.6" x2="483" y2="185.6" stroke="#231f20" stroke-width="1" />
<text x="0" y="0" transform="translate(465.55 185.8) scale(1 1.07)" font-size="7" text-anchor="middle" font-weight="normal" fill="#231f20" >**</text>
<line x1="446.7" y1="227.6" x2="446.7" y2="238.8" stroke="#2c2c48" stroke-width="1.25" />
<line x1="441.2" y1="227.6" x2="452.2" y2="227.6" stroke="#2c2c48" stroke-width="1.2" />
<line x1="441.2" y1="238.8" x2="452.2" y2="238.8" stroke="#2c2c48" stroke-width="1.2" />
<line x1="434.7" y1="235" x2="458.7" y2="235" stroke="#2c2c48" stroke-width="1.2" />
<circle cx="436.8" cy="231.2" r="1.45" fill="#fff" stroke="#7878bc" stroke-width="0.95"/>
<circle cx="443.2" cy="231.2" r="1.45" fill="#fff" stroke="#7878bc" stroke-width="0.95"/>
<circle cx="450.3" cy="232.2" r="1.45" fill="#fff" stroke="#7878bc" stroke-width="0.95"/>
<circle cx="456.7" cy="231.2" r="1.45" fill="#fff" stroke="#7878bc" stroke-width="0.95"/>
<circle cx="436.8" cy="238" r="1.45" fill="#fff" stroke="#7878bc" stroke-width="0.95"/>
<circle cx="443.2" cy="238" r="1.45" fill="#fff" stroke="#7878bc" stroke-width="0.95"/>
<circle cx="450.3" cy="238.3" r="1.45" fill="#fff" stroke="#7878bc" stroke-width="0.95"/>
<circle cx="456.7" cy="238" r="1.45" fill="#fff" stroke="#7878bc" stroke-width="0.95"/>
<circle cx="446.7" cy="227.7" r="1.45" fill="#fff" stroke="#7878bc" stroke-width="0.95"/>
<line x1="482" y1="195.1" x2="482" y2="235" stroke="#2c2c48" stroke-width="1.25" />
<line x1="476.0" y1="195.1" x2="488.0" y2="195.1" stroke="#2c2c48" stroke-width="1.2" />
<line x1="476.0" y1="235" x2="488.0" y2="235" stroke="#2c2c48" stroke-width="1.2" />
<line x1="470.5" y1="219.6" x2="493.5" y2="219.6" stroke="#2c2c48" stroke-width="1.2" />
<circle cx="482" cy="195.2" r="1.7000000000000002" fill="#f39200"/>
<circle cx="482" cy="204.6" r="1.7000000000000002" fill="#f39200"/>
<circle cx="482" cy="216.6" r="1.7000000000000002" fill="#f39200"/>
<circle cx="474.4" cy="219.3" r="1.7000000000000002" fill="#f39200"/>
<circle cx="480.4" cy="219.8" r="1.7000000000000002" fill="#f39200"/>
<circle cx="487.2" cy="219.5" r="1.7000000000000002" fill="#f39200"/>
<circle cx="491.8" cy="219.8" r="1.7000000000000002" fill="#f39200"/>
<circle cx="485.9" cy="223.3" r="1.7000000000000002" fill="#f39200"/>
<circle cx="482" cy="225" r="1.7000000000000002" fill="#f39200"/>
<circle cx="477.3" cy="234.9" r="1.7000000000000002" fill="#f39200"/>
<circle cx="486.4" cy="234.9" r="1.7000000000000002" fill="#f39200"/>
<rect x="0.5" y="0.5" width="519" height="288" fill="none" stroke="#555" stroke-width="1"/>
</svg>
</body></html>
